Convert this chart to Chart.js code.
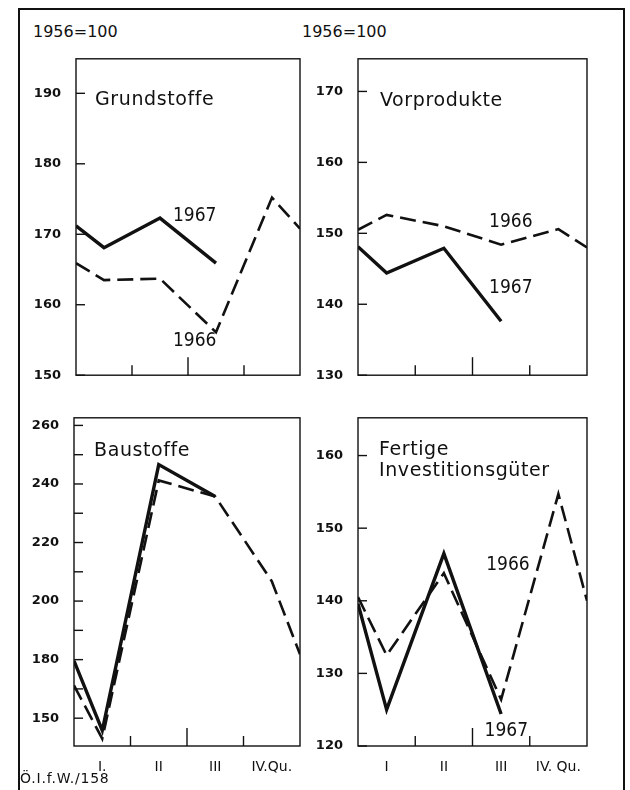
<!DOCTYPE html>
<html>
<head>
<meta charset="utf-8">
<script src="https://cdn.jsdelivr.net/npm/chart.js@4.4.0/dist/chart.umd.min.js"></script>
<style>
  body { margin:0; background:#fff; width:630px; height:790px; overflow:hidden; position:relative; font-family:"DejaVu Sans", sans-serif; color:#111; }
  .frame { position:absolute; left:18px; top:8px; width:603px; height:800px; border:2px solid #111; border-bottom:none; }
  .base { position:absolute; top:24px; font-size:16px; line-height:16px; }
  .src { position:absolute; left:20px; top:771px; font-size:14px; line-height:14px; letter-spacing:0.8px; }
  canvas { position:absolute; }
</style>
</head>
<body>
<div class="frame"></div>
<div class="base" style="left:33px">1956=100</div>
<div class="base" style="left:302px">1956=100</div>
<canvas id="grund"></canvas>
<canvas id="vor"></canvas>
<canvas id="bau"></canvas>
<canvas id="fert"></canvas>
<div class="src">Ö.I.f.W./158</div>

<script>
// x positions: left edge, quarter I..IV centres, right edge (axis units = quarters)
const quarterX = [0, 0.5, 1.5, 2.5, 3.5, 4];
const quarterCenters = [0.5, 1.5, 2.5, 3.5];
const quarterBounds = [1, 2, 3];

// Grundstoffe
const grund1966 = [165.9, 163.5, 163.7, 156.1, 175.2, 170.8];
const grund1967 = [171.2, 168.1, 172.3, 165.9];
const grundTicks = [150, 160, 170, 180, 190];
const grundLabels = ['150', '160', '170', '180', '190'];

// Vorprodukte
const vor1966 = [150.5, 152.6, 151.0, 148.4, 150.6, 148.0];
const vor1967 = [148.1, 144.4, 147.9, 137.6];
const vorTicks = [130, 140, 150, 160, 170];
const vorLabels = ['130', '140', '150', '160', '170'];

// Baustoffe
const bau1966 = [171.2, 153.0, 241.2, 235.7, 206.8, 181.8];
const bau1967 = [179.6, 155.8, 246.6, 235.7];
const bauTicks = [160, 180, 200, 220, 240, 260];
const bauLabels = ['150', '180', '200', '220', '240', '260'];
const bauMinor = [170, 190, 210, 230, 250];

// Fertige Investitionsgüter
const fert1966 = [140.5, 132.5, 143.8, 126.4, 154.7, 140.0];
const fert1967 = [139.6, 125.0, 146.5, 124.4];
const fertTicks = [120, 130, 140, 150, 160];
const fertLabels = ['120', '130', '140', '150', '160'];

const quarterLabelsL = ['I.', 'II', 'III', 'IV.Qu.'];
const quarterLabelsR = ['I', 'II', 'III', 'IV. Qu.'];

function series(values) {
  return values.map((v, i) => ({ x: quarterX[i], y: v }));
}

function line(ctx, x1, y1, x2, y2) {
  ctx.beginPath(); ctx.moveTo(x1, y1); ctx.lineTo(x2, y2); ctx.stroke();
}

// frame, inner tick marks, title and year notes
const panelDeco = {
  id: 'panelDeco',
  afterDatasetsDraw(chart, args, opts) {
    const { ctx, chartArea: a, scales: { x, y } } = chart;
    ctx.save();
    ctx.strokeStyle = '#111';
    ctx.lineWidth = 1.4;
    ctx.strokeRect(a.left, a.top, a.width, a.height);
    opts.yMarks.forEach(v => {
      const py = y.getPixelForValue(v);
      line(ctx, a.left, py, a.left + 9, py);
    });
    quarterBounds.forEach((v, i) => {
      const px = x.getPixelForValue(v);
      line(ctx, px, a.bottom, px, a.bottom - (i === 1 ? 18 : 10));
    });
    ctx.fillStyle = '#111';
    ctx.textBaseline = 'middle';
    ctx.textAlign = 'left';
    ctx.font = '19px "DejaVu Sans"';
    ctx.letterSpacing = '0.6px';
    opts.title.forEach((t, i) => ctx.fillText(t, a.left + opts.titleDx, a.top + opts.titleDy + i * 21));
    ctx.letterSpacing = '0px';
    ctx.textAlign = 'center';
    ctx.font = '19px "DejaVu Sans Condensed", "DejaVu Sans"';
    opts.notes.forEach(n => ctx.fillText(n.text, x.getPixelForValue(n.x), y.getPixelForValue(n.y)));
    ctx.restore();
  }
};

function makePanel(id, p) {
  const cv = document.getElementById(id);
  const bottomH = p.xLabels ? 34 : 12;
  cv.width = (p.right - p.left) + 60 + 8;
  cv.height = (p.bottom - p.top) + 12 + bottomH;
  cv.style.left = (p.left - 60) + 'px';
  cv.style.top = (p.top - 12) + 'px';
  new Chart(cv, {
    type: 'line',
    data: {
      datasets: [
        { data: series(p.s1966), borderColor: '#111', borderWidth: 2.6, borderDash: [16, 7], pointRadius: 0, tension: 0 },
        { data: series(p.s1967), borderColor: '#111', borderWidth: 3.4, pointRadius: 0, tension: 0 }
      ]
    },
    options: {
      responsive: false,
      animation: false,
      events: [],
      layout: { padding: { top: 12, right: 8, left: 0, bottom: 0 } },
      plugins: {
        legend: { display: false },
        tooltip: { enabled: false },
        panelDeco: { yMarks: p.marks, title: p.title, titleDx: p.titleDx, titleDy: p.titleDy, notes: p.notes }
      },
      scales: {
        x: {
          type: 'linear', min: 0, max: 4,
          grid: { display: false, drawTicks: false },
          border: { display: false },
          afterBuildTicks: s => { s.ticks = quarterCenters.map(v => ({ value: v })); },
          afterFit: s => { s.height = bottomH; },
          ticks: {
            display: !!p.xLabels, autoSkip: false, maxRotation: 0, padding: 13, color: '#111',
            font: { family: 'DejaVu Sans', size: 14 },
            callback: (v, i) => p.xLabels ? p.xLabels[i] : ''
          }
        },
        y: {
          min: p.min, max: p.max,
          grid: { display: false, drawTicks: false },
          border: { display: false },
          afterBuildTicks: s => { s.ticks = p.ticks.map(v => ({ value: v })); },
          afterFit: s => { s.width = 60; },
          ticks: {
            autoSkip: false, padding: 15, color: '#111',
            font: { family: 'DejaVu Sans', size: 13, weight: 'bold' },
            callback: (v, i) => p.tickLabels[i]
          }
        }
      }
    },
    plugins: [panelDeco]
  });
}

makePanel('grund', {
  left: 76, right: 300, top: 48, bottom: 386, min: 150, max: 194.9,
  s1966: grund1966, s1967: grund1967, ticks: grundTicks, tickLabels: grundLabels, marks: grundTicks,
  title: ['Grundstoffe'], titleDx: 19, titleDy: 41,
  notes: [{ text: '1967', x: 2.12, y: 172.6 }, { text: '1966', x: 2.12, y: 154.8 }]
});
makePanel('vor', {
  left: 358, right: 587, top: 48, bottom: 386, min: 130, max: 174.6,
  s1966: vor1966, s1967: vor1967, ticks: vorTicks, tickLabels: vorLabels, marks: vorTicks,
  title: ['Vorprodukte'], titleDx: 22, titleDy: 42,
  notes: [{ text: '1966', x: 2.67, y: 151.6 }, { text: '1967', x: 2.67, y: 142.3 }]
});
makePanel('bau', {
  left: 74, right: 300, top: 407, bottom: 746, min: 150.5, max: 262.6,
  s1966: bau1966, s1967: bau1967, ticks: bauTicks, tickLabels: bauLabels, marks: bauTicks.concat(bauMinor),
  title: ['Baustoffe'], titleDx: 20, titleDy: 33,
  notes: [], xLabels: quarterLabelsL
});
makePanel('fert', {
  left: 358, right: 587, top: 407, bottom: 746, min: 120, max: 165.2,
  s1966: fert1966, s1967: fert1967, ticks: fertTicks, tickLabels: fertLabels, marks: fertTicks,
  title: ['Fertige', 'Investitionsgüter'], titleDx: 21, titleDy: 32,
  notes: [{ text: '1966', x: 2.62, y: 144.9 }, { text: '1967', x: 2.59, y: 122.0 }], xLabels: quarterLabelsR
});
</script>
</body>
</html>
